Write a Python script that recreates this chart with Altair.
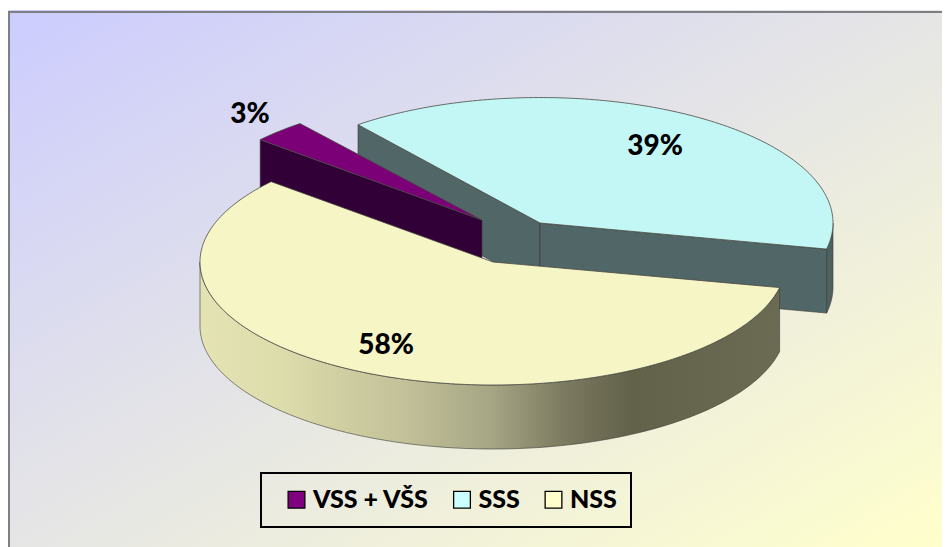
import math
import altair as alt
import pandas as pd

# ---- data
categories = ["VSS + VŠS", "SSS", "NSS"]
shares = [3, 39, 58]
legend_colors = ["#800080", "#CCFFFF", "#FFFFCC"]
top_colors = ["#7B0078", "#C3F7F6", "#F6F5C6"]
wall_colors = ["#310036", "#516666", None]

# ---- layout (page pixels)
W, H, ORIGIN = 934, 539, 8
CX, CY, RX, RY, DEPTH = 493, 262, 293, 123, 64
FIRST_SLICE_START = 139.2             # degrees, counter-clockwise from +x
EXPLODE = {"VSS + VŠS": (-11, -42), "SSS": (47, -39), "NSS": (0, 0)}
RY_FACTOR = {"VSS + VŠS": 1.0, "SSS": 1.02, "NSS": 1.0}
LABEL_AT = {"VSS + VŠS": (250, 115), "SSS": (655, 147), "NSS": (386, 346)}

xscale = alt.Scale(domain=[(ORIGIN - CX) / RX, (ORIGIN + W - CX) / RX], nice=False, zero=False)
yscale = alt.Scale(domain=[(CY - ORIGIN - H) / RY, (CY - ORIGIN) / RY], nice=False, zero=False)

spans = {}
angle = FIRST_SLICE_START
spans["NSS"] = (angle, angle + 3.6 * shares[2])
angle += 3.6 * shares[2]
spans["SSS"] = (angle, angle + 3.6 * shares[1])
angle += 3.6 * shares[1]
spans["VSS + VŠS"] = (angle, angle + 3.6 * shares[0])


def unit(cat, deg):
    ox, oy = EXPLODE[cat]
    return (math.cos(math.radians(deg)) + ox / RX,
            RY_FACTOR[cat] * math.sin(math.radians(deg)) - oy / RY)


def apex(cat):
    ox, oy = EXPLODE[cat]
    return (ox / RX, -oy / RY)


def arc_points(cat, a0, a1, step=1.0):
    n = max(2, int(abs(a1 - a0) / step))
    return [unit(cat, a0 + (a1 - a0) * i / n) for i in range(n + 1)]


def top_layer(cat, color):
    a0, a1 = spans[cat]
    pts = [apex(cat)] + arc_points(cat, a0, a1) + [apex(cat)]
    df = pd.DataFrame({"x": [p[0] for p in pts], "y": [p[1] for p in pts], "i": range(len(pts))})
    return alt.Chart(df).mark_line(fill=color, stroke="#4a4a44", strokeWidth=0.8, interpolate="linear").encode(
        x=alt.X("x:Q", scale=xscale, axis=None),
        y=alt.Y("y:Q", scale=yscale, axis=None),
        order="i:Q",
    )


def wall_layer(pts, fill, stroke="#3a3a34"):
    df = pd.DataFrame({"x": [p[0] for p in pts], "y": [p[1] for p in pts]})
    df["y2"] = df["y"] - DEPTH / RY
    df = df.sort_values("x")
    return alt.Chart(df).mark_area(fill=fill, stroke=stroke, strokeWidth=0.6, opacity=1).encode(
        x=alt.X("x:Q", scale=xscale, axis=None),
        y=alt.Y("y:Q", scale=yscale, axis=None),
        y2="y2",
    )


def rect_layer(x0, x1, y0, y1, fill):
    df = pd.DataFrame({"x0": [x0], "x1": [x1], "y0": [y0], "y1": [y1]})
    return alt.Chart(df).mark_rect(fill=fill).encode(
        x=alt.X("x0:Q", scale=None), x2="x1",
        y=alt.Y("y0:Q", scale=None), y2="y1",
    )


background = rect_layer(
    0, W, 2, H,
    alt.LinearGradient(
        gradient="linear",
        stops=[alt.GradientStop(offset=0, color="#CCCCFF"), alt.GradientStop(offset=1, color="#FFFFCC")],
        x1=0, y1=0, x2=1, y2=1,
    ),
)
frame_top = rect_layer(0, W, 3, 5, "#7f7f84")
frame_left = rect_layer(0, 2, 3, H, "#7f7f84")

# walls
c0, c1 = spans["SSS"]
c0n = c0 - 360
sss_right = wall_layer([apex("SSS"), unit("SSS", c0)], wall_colors[1])
sss_inner = wall_layer([unit("SSS", c1), apex("SSS")], wall_colors[1])
sss_rim = wall_layer(arc_points("SSS", c0n, 0), "#4d6161")
vss_front = wall_layer([unit("VSS + VŠS", spans["VSS + VŠS"][1]), apex("VSS + VŠS")], wall_colors[0])
nss_outer = wall_layer(
    arc_points("NSS", 180, spans["NSS"][1]),
    alt.LinearGradient(
        gradient="linear",
        stops=[
            alt.GradientStop(offset=0.0, color="#E4E3B4"),
            alt.GradientStop(offset=0.14, color="#DDDCAB"),
            alt.GradientStop(offset=0.35, color="#C2C199"),
            alt.GradientStop(offset=0.5, color="#A7A685"),
            alt.GradientStop(offset=0.62, color="#7E7D62"),
            alt.GradientStop(offset=0.74, color="#62614A"),
            alt.GradientStop(offset=1.0, color="#6B6A52"),
        ],
        x1=0, y1=0, x2=1, y2=0,
    ),
)

labels = pd.DataFrame({
    "px": [LABEL_AT[c][0] - ORIGIN for c in categories],
    "py": [LABEL_AT[c][1] - ORIGIN for c in categories],
    "text": [f"{s}%" for s in shares],
})
label_layer = alt.Chart(labels).mark_text(
    font="Lato", fontWeight=900, fontSize=28, color="#000000", align="center", baseline="middle"
).encode(x=alt.X("px:Q", scale=None), y=alt.Y("py:Q", scale=None), text="text:N")

# legend: a real legend from a layer whose rows are filtered away
legend_layer = alt.Chart(pd.DataFrame({"cat": categories})).transform_filter("false").mark_square().encode(
    fill=alt.Fill(
        "cat:N",
        scale=alt.Scale(domain=categories, range=legend_colors),
        legend=alt.Legend(
            title=None, orient="none", direction="horizontal",
            legendX=253, legendY=465, symbolType="square", symbolSize=280,
            symbolStrokeColor="#000000", symbolStrokeWidth=1.3, symbolOpacity=1,
            symbolOffset=9,
            labelFont="Lato", labelFontWeight=900, labelFontSize=25, labelColor="#000000",
            labelOffset=4, columnPadding=11.5, padding=14,
            strokeColor="#000000", labelLimit=300,
        ),
    )
)

chart = alt.layer(
    background, frame_top, frame_left,
    sss_inner, sss_right, sss_rim, top_layer("SSS", top_colors[1]),
    vss_front, top_layer("VSS + VŠS", top_colors[0]),
    nss_outer, top_layer("NSS", top_colors[2]),
    label_layer, legend_layer,
).properties(
    width=W, height=H, padding=0,
    autosize=alt.AutoSizeParams(type="none"),
).configure_view(stroke=None).configure_legend(strokeWidth=2)

chart.save("out.html", embed_options={"renderer": "svg", "actions": False})
